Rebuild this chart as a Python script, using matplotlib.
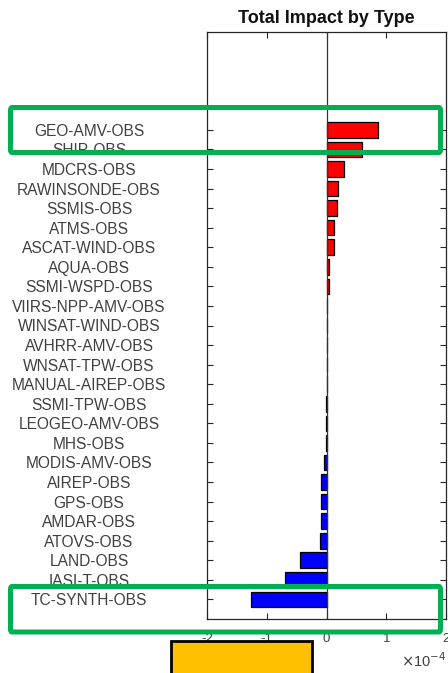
import matplotlib.pyplot as plt
import matplotlib.transforms as mtransforms
import numpy as np
from matplotlib.patches import FancyBboxPatch, Rectangle

plt.rcParams["font.family"] = ["Liberation Sans", "DejaVu Sans"]

# observation types, top to bottom
obs_types = [
    "GEO-AMV-OBS", "SHIP-OBS", "MDCRS-OBS", "RAWINSONDE-OBS", "SSMIS-OBS",
    "ATMS-OBS", "ASCAT-WIND-OBS", "AQUA-OBS", "SSMI-WSPD-OBS",
    "VIIRS-NPP-AMV-OBS", "WINSAT-WIND-OBS", "AVHRR-AMV-OBS", "WNSAT-TPW-OBS",
    "MANUAL-AIREP-OBS", "SSMI-TPW-OBS", "LEOGEO-AMV-OBS", "MHS-OBS",
    "MODIS-AMV-OBS", "AIREP-OBS", "GPS-OBS", "AMDAR-OBS", "ATOVS-OBS",
    "LAND-OBS", "IASI-T-OBS", "TC-SYNTH-OBS",
]
# total impact, units of 1e-4
impact = [
    0.87, 0.59, 0.30, 0.20, 0.18,
    0.12, 0.12, 0.04, 0.04,
    0.0, 0.0, 0.0, 0.0,
    0.0, -0.01, -0.01, -0.01,
    -0.04, -0.09, -0.09, -0.09, -0.11,
    -0.44, -0.69, -1.26,
]
xticks = [-2, -1, 0, 1, 2]

W, H = 448, 673
fig = plt.figure(figsize=(W / 100, H / 100), dpi=100)
ax = fig.add_axes([207 / W, 1 - 619 / H, 239 / W, 587 / H])

n = len(obs_types)
pos = np.arange(n, 0, -1)
vals = np.array(impact)
colors = np.where(vals >= 0, "#ff0000", "#0000ff")
ax.barh(pos, vals, height=0.8, color=colors, edgecolor="black",
        linewidth=0.9, zorder=2)
ax.axvline(0, color="#333333", linewidth=0.9, zorder=3)

ax.set_xlim(-2, 2)
ax.set_ylim(0, n + 5)
ax.set_xticks(xticks)
ax.set_xticklabels([str(t) for t in xticks])
ax.set_yticks(pos)
ax.set_yticklabels([])
ax.tick_params(axis="both", direction="in", length=4, width=0.8,
               color="#262626", top=True, right=True)
ax.tick_params(axis="x", labelsize=9.5, labelcolor="#404040", pad=10)
for sp in ax.spines.values():
    sp.set_color("#262626")
    sp.set_linewidth(0.9)

# category names, centred in the left margin
trans = mtransforms.blended_transform_factory(fig.transFigure, ax.transData)
for p, name in zip(pos, obs_types):
    ax.text(89 / W, p, name, transform=trans, ha="center",
            va="center_baseline", fontsize=11.2, color="#404040",
            clip_on=False)

fig.text(326 / W, 1 - 23 / H, "Total Impact by Type", ha="center",
         va="baseline", fontsize=13, fontweight="bold", color="#111111")
fig.text(401 / W, 1 - 667 / H, r"$\times$10$^{-4}$", ha="left",
         va="baseline", fontsize=10.5, color="#404040")

# highlight boxes
for top, bottom in [(107.5, 152.5), (586.5, 632)]:
    box = FancyBboxPatch((10.5 / W, 1 - bottom / H), 430 / W,
                         (bottom - top) / H,
                         boxstyle="round,pad=0,rounding_size=0.004",
                         transform=fig.transFigure, fill=False,
                         edgecolor="#00b050", linewidth=3.6, zorder=10)
    fig.add_artist(box)

fig.add_artist(Rectangle((171 / W, -0.05), 141 / W, 0.05 + 1 - 641 / H,
                         transform=fig.transFigure, facecolor="#ffc000",
                         edgecolor="black", linewidth=2, zorder=10))

fig.savefig("out.png", dpi=100)
